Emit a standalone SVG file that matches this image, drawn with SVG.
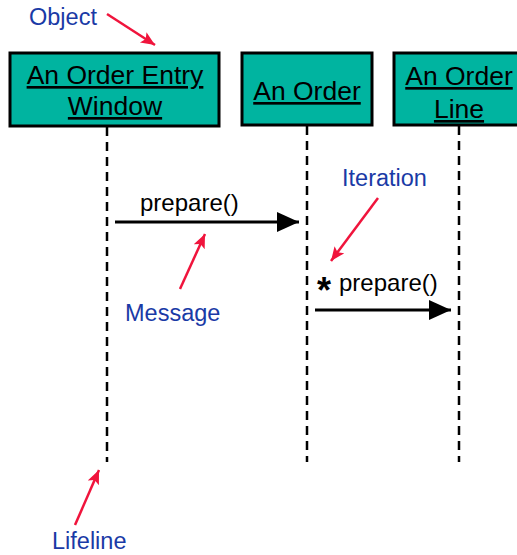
<svg xmlns="http://www.w3.org/2000/svg" width="517" height="555" viewBox="0 0 517 555">
  <style>
    .box { fill: #00B4A0; stroke: #000; stroke-width: 3; }
    .obj { font-family: "Liberation Sans", Arial, sans-serif; font-size: 26.5px; fill: #000; text-anchor: middle; text-decoration: underline; }
    .life { stroke: #000; stroke-width: 2.5; stroke-dasharray: 9 6; fill: none; }
    .msg { stroke: #000; stroke-width: 3; fill: none; }
    .msgtxt { font-family: "Liberation Sans", Arial, sans-serif; font-size: 24px; fill: #000; }
    .note { font-family: "Liberation Sans", Arial, sans-serif; font-size: 23.5px; fill: #1A3AA6; }
    .pointer { stroke: #F0143C; stroke-width: 2.5; fill: none; }
  </style>
  <defs>
    <marker id="solidHead" markerUnits="userSpaceOnUse" markerWidth="24" markerHeight="22" refX="22" refY="10" orient="auto">
      <path d="M0,0 L22,10 L0,20 z" fill="#000"/>
    </marker>
    <marker id="redHead" markerUnits="userSpaceOnUse" markerWidth="16" markerHeight="14" refX="14" refY="6" orient="auto">
      <path d="M0,0 L14,6 L0,12 L3,6 z" fill="#F0143C"/>
    </marker>
  </defs>

  <!-- objects -->
  <g id="order-entry-window">
    <rect class="box" x="10" y="53" width="209" height="73"/>
    <text class="obj" x="115" y="84">An Order Entry</text>
    <text class="obj" x="115" y="115">Window</text>
  </g>
  <g id="an-order">
    <rect class="box" x="242" y="53" width="130" height="72"/>
    <text class="obj" x="307" y="100">An Order</text>
  </g>
  <g id="an-order-line">
    <rect class="box" x="394" y="53" width="130" height="72"/>
    <text class="obj" x="459" y="85">An Order</text>
    <text class="obj" x="459" y="118">Line</text>
  </g>

  <!-- lifelines and messages -->
  <g id="connectors">
    <line class="life" x1="107" y1="127" x2="107" y2="462"/>
    <line class="life" x1="307" y1="126" x2="307" y2="462"/>
    <line class="life" x1="459" y1="126" x2="459" y2="462"/>
    <line class="msg" x1="115" y1="222" x2="299" y2="222" marker-end="url(#solidHead)"/>
    <line class="msg" x1="315" y1="310" x2="451" y2="310" marker-end="url(#solidHead)"/>
  </g>

  <!-- message labels -->
  <text class="msgtxt" x="140" y="211">prepare()</text>
  <text class="msgtxt" x="317" y="291"><tspan font-size="36" font-weight="bold" dy="12">*</tspan><tspan dy="-12" dx="8">prepare()</tspan></text>

  <!-- annotations -->
  <g id="annotations">
    <text class="note" x="29" y="25">Object</text>
    <line class="pointer" x1="107" y1="14" x2="155" y2="45" marker-end="url(#redHead)"/>
    <text class="note" x="342" y="186">Iteration</text>
    <line class="pointer" x1="378" y1="198" x2="331" y2="261" marker-end="url(#redHead)"/>
    <text class="note" x="125" y="321">Message</text>
    <line class="pointer" x1="180" y1="289" x2="205" y2="234" marker-end="url(#redHead)"/>
    <text class="note" x="52" y="549">Lifeline</text>
    <line class="pointer" x1="75" y1="525" x2="99" y2="470" marker-end="url(#redHead)"/>
  </g>
</svg>
